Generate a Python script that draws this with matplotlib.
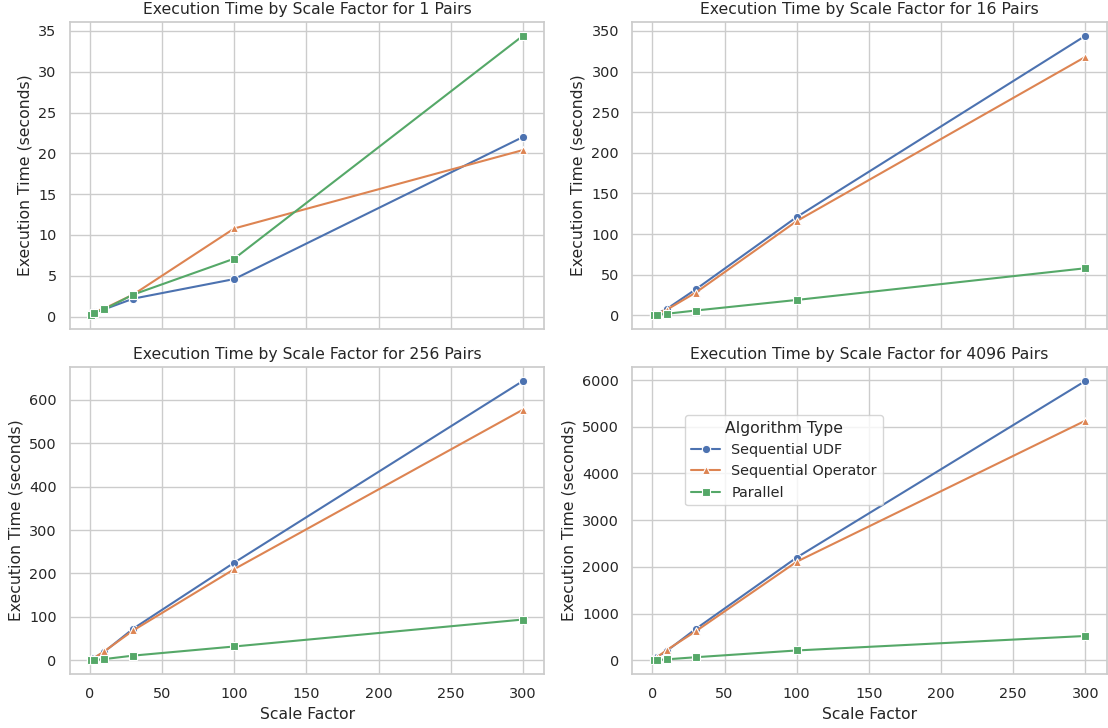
import matplotlib
matplotlib.use("Agg")
import matplotlib.pyplot as plt
import seaborn as sns

sns.set_theme(style="whitegrid", font_scale=0.94)

scale_factors = [1, 3, 10, 30, 100, 300]
pairs = [1, 16, 256, 4096]
algorithms = ["Sequential UDF", "Sequential Operator", "Parallel"]

# execution times (seconds), one list per algorithm for each pair count
times = {
    1: {
        "Sequential UDF": [0.3, 0.6, 0.9, 2.2, 4.6, 22.0],
        "Sequential Operator": [0.3, 0.6, 1.0, 2.7, 10.8, 20.4],
        "Parallel": [0.2, 0.5, 0.9, 2.7, 7.1, 34.4],
    },
    16: {
        "Sequential UDF": [1, 2, 8, 32, 121, 344],
        "Sequential Operator": [1, 2, 7, 28, 116, 318],
        "Parallel": [0.5, 1, 2, 6, 19, 58],
    },
    256: {
        "Sequential UDF": [2, 6, 20, 73, 225, 643],
        "Sequential Operator": [2, 6, 21, 69, 210, 577],
        "Parallel": [0.5, 1, 3, 11, 32, 94],
    },
    4096: {
        "Sequential UDF": [20, 60, 200, 670, 2200, 5980],
        "Sequential Operator": [20, 60, 220, 620, 2110, 5130],
        "Parallel": [2, 6, 20, 65, 210, 520],
    },
}

colors = sns.color_palette()[:3]
markers = ["o", "^", "s"]

fig, axes = plt.subplots(2, 2, figsize=(11.08, 7.28), dpi=100, sharex=True)
fig.subplots_adjust(left=0.063, right=0.999, bottom=0.074, top=0.97,
                    wspace=0.185, hspace=0.124)

for i, (ax, p) in enumerate(zip(axes.flat, pairs)):
    for algo, c, m in zip(algorithms, colors, markers):
        ax.plot(scale_factors, times[p][algo], color=c, marker=m, markersize=6,
                markeredgecolor="white", markeredgewidth=0.8, linewidth=1.5,
                label=algo)
    ax.set_title(f"Execution Time by Scale Factor for {p} Pairs")
    ax.set_ylabel("Execution Time (seconds)")
    if i >= 2:
        ax.set_xlabel("Scale Factor")
    ax.set_xticks([0, 50, 100, 150, 200, 250, 300])

axes[1, 1].legend(title="Algorithm Type", loc="upper left",
                  bbox_to_anchor=(0.097, 0.866))

plt.savefig("out.png")
